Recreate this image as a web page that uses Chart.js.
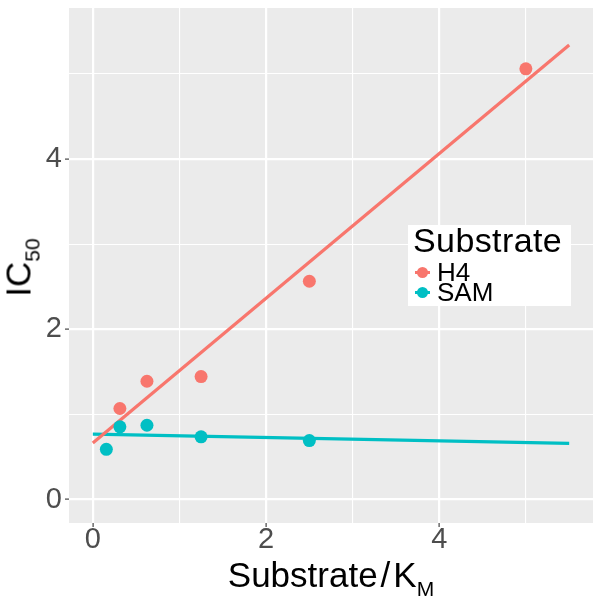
<!DOCTYPE html>
<html>
<head>
<meta charset="utf-8">
<script src="https://cdn.jsdelivr.net/npm/chart.js@4"></script>
<style>
  body { margin: 0; background: #fff; }
  #wrap { position: relative; width: 603px; height: 603px; font-family: "Liberation Sans", Arial, sans-serif; }
  canvas { position: absolute; left: 0; top: 0; }
  .ttl { position: absolute; color: #000; white-space: nowrap; font-size: 35px; line-height: 34px; text-align: center; }
  .sub { font-size: 21px; position: relative; top: 9px; }
  #legend { position: absolute; left: 408px; top: 225px; width: 163px; height: 81px; background: #fff; }
  #legend .lt { position: absolute; left: 5px; top: -1px; font-size: 34px; line-height: 33px; letter-spacing: 0.4px; color: #000; }
  #legend .row { position: absolute; left: 5px; height: 19px; font-size: 26px; line-height: 19px; color: #000; }
  #legend .key { position: absolute; left: 0; top: 0; width: 19px; height: 19px; }
  #legend .key i { position: absolute; left: 2px; right: 2px; top: 8px; height: 3px; }
  #legend .key b { position: absolute; left: 4px; top: 4px; width: 11px; height: 11px; border-radius: 50%; }
  #legend .row span { position: absolute; left: 24px; top: 0; }
</style>
</head>
<body>
<div id="wrap">
  <canvas id="c" width="603" height="603"></canvas>
  <div class="ttl" style="left:181px; top:558px; width:300px;">Substrate<span style="margin:0 3px;">/</span>K<span class="sub">M</span></div>
  <div class="ttl" style="left:-79px; top:248px; width:200px; transform:rotate(-90deg);">IC<span class="sub">50</span></div>
  <div id="legend">
    <div class="lt">Substrate</div>
    <div class="row" style="top:38px;"><div class="key"><i style="background:#F8766D"></i><b style="background:#F8766D"></b></div><span>H4</span></div>
    <div class="row" style="top:58px;"><div class="key"><i style="background:#00BFC4"></i><b style="background:#00BFC4"></b></div><span>SAM</span></div>
  </div>
</div>
<script>
// points
const h4X = [0.3125, 0.625, 1.25, 2.5, 5];
const h4Y = [1.07, 1.39, 1.445, 2.565, 5.06];
const samX = [0.156, 0.3125, 0.625, 1.25, 2.5];
const samY = [0.59, 0.855, 0.873, 0.737, 0.693];

// fitted lines, ends
const fitX = [0, 5.5];
const h4Fit = [0.666, 5.34];
const samFit = [0.77, 0.66];

const xTicks = [0, 1, 2, 3, 4, 5];
const xTickLabels = ["0", "", "2", "", "4", ""];
const yTicks = [0, 1, 2, 3, 4, 5];
const yTickLabels = ["0", "", "2", "", "4", ""];

const RED = "#F8766D", TEAL = "#00BFC4";
const pts = (xs, ys) => xs.map((x, i) => ({x, y: ys[i]}));

const panelBg = {
  id: "panelBg",
  beforeDraw(chart) {
    const a = chart.chartArea, ctx = chart.ctx;
    ctx.save();
    ctx.fillStyle = "#EBEBEB";
    ctx.fillRect(a.left, a.top, a.right - a.left, a.bottom - a.top);
    ctx.restore();
  }
};

function axis(ticks, labels, fitFn, pad) {
  return {
    type: "linear",
    min: -0.275, max: 5.775,
    afterBuildTicks: s => { s.ticks = ticks.map(v => ({value: v})); },
    afterFit: s => {
      fitFn(s);
      s.paddingTop = 0; s.paddingBottom = 0; s.paddingLeft = 0; s.paddingRight = 0;
    },
    border: {display: false},
    grid: {
      color: "#FFFFFF",
      lineWidth: c => (c.tick && c.tick.value % 2 === 0) ? 2.2 : 1.1,
      drawTicks: true,
      tickLength: 4,
      tickWidth: 1.1,
      tickColor: c => (c.tick && c.tick.value % 2 === 0) ? "#333333" : "rgba(0,0,0,0)",
    },
    ticks: {
      color: "#4D4D4D",
      font: {family: "Liberation Sans", size: 29},
      padding: pad,
      autoSkip: false,
      maxRotation: 0,
      callback: (v, i) => labels[i],
    },
  };
}

new Chart(document.getElementById("c"), {
  type: "scatter",
  data: {
    datasets: [
      {data: pts(h4X, h4Y), backgroundColor: RED, borderColor: RED, pointRadius: 6.5, pointBorderWidth: 0, order: 0},
      {data: pts(samX, samY), backgroundColor: TEAL, borderColor: TEAL, pointRadius: 6.5, pointBorderWidth: 0, order: 0},
      {data: pts(fitX, h4Fit), showLine: true, borderColor: RED, borderWidth: 3.2, pointRadius: 0, order: 1},
      {data: pts(fitX, samFit), showLine: true, borderColor: TEAL, borderWidth: 3.2, pointRadius: 0, order: 1},
    ],
  },
  options: {
    responsive: false,
    animation: false,
    devicePixelRatio: 1,
    layout: {padding: {top: 8, right: 10, left: 0, bottom: 0}},
    plugins: {legend: {display: false}, tooltip: {enabled: false}},
    scales: {
      x: axis(xTicks, xTickLabels, s => { s.height = 80; }, -4),
      y: axis(yTicks, yTickLabels, s => { s.width = 69; }, 3),
    },
  },
  plugins: [panelBg],
});
</script>
</body>
</html>
